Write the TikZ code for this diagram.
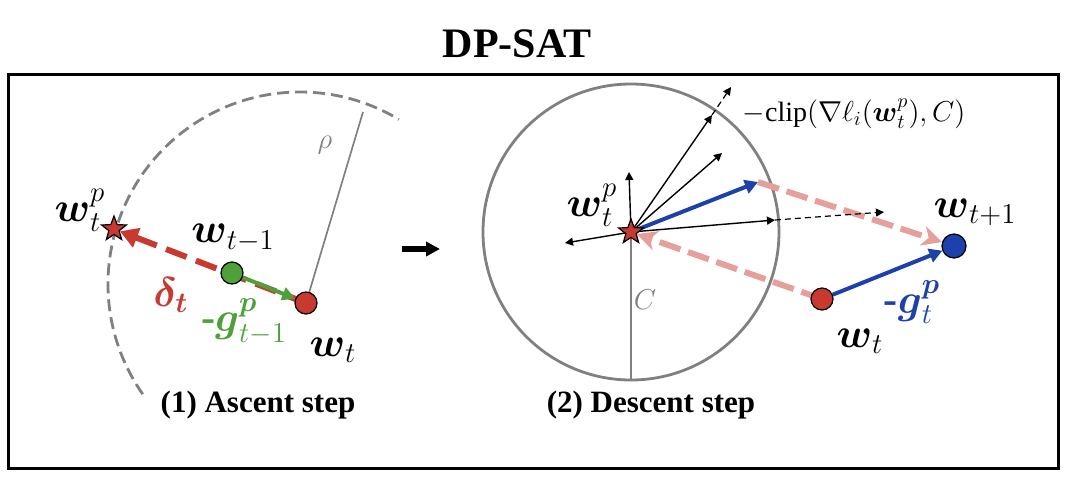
\documentclass[tikz,border=0pt]{standalone}
\usepackage{fontspec}
\setmainfont{Liberation Serif}
\usepackage{amsmath, amssymb}
\usetikzlibrary{arrows.meta, shapes.geometric, backgrounds}
\definecolor{dpred}{RGB}{200,58,48}
\definecolor{dpgreen}{RGB}{78,160,58}
\definecolor{dpblue}{RGB}{30,64,170}
\definecolor{dppink}{RGB}{230,160,155}
\definecolor{dpgray}{RGB}{128,128,128}
\newcommand{\wv}{\boldsymbol{w}}

\begin{document}
\begin{tikzpicture}[x=0.5pt, y=-0.5pt,
        % points (weights)
        dot/.style={circle, draw, line width=0.6pt, minimum size=11pt, inner sep=0pt},
        pstar/.style={star, star points=5, star point ratio=2.4, draw, line width=0.6pt, fill=dpred, minimum size=13pt, inner sep=0pt},
        % labels
        lbl/.style={font=\fontsize{21}{25}\selectfont, inner sep=0pt},
        small/.style={font=\fontsize{14}{17}\selectfont, inner sep=0pt},
        caption/.style={font=\fontsize{15.5}{18}\selectfont\bfseries},
        title/.style={font=\fontsize{21}{25}\selectfont\bfseries},
        % lines and arrows
        frame/.style={line width=1.5pt},
        rholine/.style={dpgray, line width=0.85pt},
        ball/.style={dpgray, line width=1.4pt},
        ascent/.style={dpred, line width=3pt, dash pattern=on 11pt off 5pt, -{Triangle[length=9pt, width=10pt]}},
        oldgrad/.style={dpgreen, line width=2pt, -{Triangle[length=6.5pt, width=6.5pt]}},
        newgrad/.style={dpblue, line width=2pt, -{Triangle[length=6.5pt, width=7pt]}},
        sample/.style={line width=0.7pt, -{Triangle[length=4pt, width=4pt]}},
        unclip/.style={line width=0.6pt, dash pattern=on 3pt off 2pt, -{Triangle[length=4pt, width=4pt]}},
        move/.style={dppink, line width=3pt, dash pattern=on 11pt off 4pt, -{Stealth[length=10pt, width=10pt, inset=3pt]}},
        next/.style={line width=2.6pt, -{Triangle[length=7pt, width=7pt]}}
    ]
    \useasboundingbox (0,0) rectangle (1072,494);

    % title and frame
    \node[title] (ttl) at (517,44) {DP-SAT};
    \draw[frame] (8,74) rectangle (1058,468);

    % (1) ascent step
    \node[pstar] (wp1) at (114,229) {};
    \node[dot, fill=dpgreen] (wprev) at (232,273) {};
    \node[dot, fill=dpred] (wt1) at (306,303) {};
    \coordinate (ctr1) at (300,284);
    \coordinate (rhoend) at (363,112);

    \node[lbl] (l_wp1) at (80,210) {$\wv_t^{p}$};
    \node[lbl] (l_wprev) at (233,238) {$\wv_{t-1}$};
    \node[lbl, dpred] (l_delta) at (171,295) {$\boldsymbol{\delta_t}$};
    \node[lbl, dpgreen] (l_oldgrad) at (244,322) {\textbf{-}$\boldsymbol{g}^{\boldsymbol{p}}_{t-1}$};
    \node[lbl] (l_wt1) at (333,350) {$\wv_t$};
    \node[small, dpgray] (l_rho) at (325,145) {$\rho$};
    \node[caption] (cap1) at (258,405) {(1) Ascent step};

    % step arrow
    \coordinate (go1) at (402,249);
    \coordinate (go2) at (440,249);
    \draw[next] (go1) -- (go2);

    % (2) descent step
    \node[pstar] (wp2) at (631,232) {};
    \node[dot, fill=dpred] (wt2) at (822,299) {};
    \node[dot, fill=dpblue, minimum size=12pt] (wnext) at (954,246) {};
    \coordinate (gl) at (565,243);
    \coordinate (gu) at (629,172);
    \coordinate (gur) at (712,115);
    \coordinate (gurx) at (731,87);
    \coordinate (gm) at (722,153);
    \coordinate (gr) at (775,220);
    \coordinate (grx) at (884,212);
    \coordinate (gbar) at (758,182);
    \coordinate (cbot) at (631,381);

    \node[lbl] (l_wp2) at (592,205) {$\wv_t^{p}$};
    \node[small, dpgray] (l_c) at (645,300) {$C$};
    \node[small] (l_clip) at (854,114) {$-\mathrm{clip}(\nabla\ell_i(\wv_t^{p}),C)$};
    \node[lbl] (l_wnext) at (975,212) {$\wv_{t+1}$};
    \node[lbl, dpblue] (l_newgrad) at (912,302) {\textbf{-}$\boldsymbol{g}^{\boldsymbol{p}}_t$};
    \node[lbl] (l_wt2) at (860,341) {$\wv_t$};
    \node[caption] (cap2) at (651,405) {(2) Descent step};

    % connectors behind the points
    \begin{scope}[on background layer]
        \draw[ball, dash pattern=on 6pt off 3pt] (ctr1) ++(145:192) arc[start angle=145, end angle=301, radius=192];
        \draw[rholine] (wt1) -- (rhoend);
        \draw[ascent] (wt1.center) -- (wp1);
        \draw[oldgrad] (wprev) -- (wt1);

        \draw[ball] (wp2.center) circle[radius=148];
        \draw[ball] (wp2.center) -- (cbot);
        \draw[move] (wt2.center) -- (wp2);
        \draw[move] (gbar) -- (wnext);
        \draw[sample] (wp2.center) -- (gl);
        \draw[sample] (wp2.center) -- (gu);
        \draw[sample] (wp2.center) -- (gur);
        \draw[sample] (wp2.center) -- (gm);
        \draw[sample] (wp2.center) -- (gr);
        \draw[unclip] (gur) -- (gurx);
        \draw[unclip] (gr) -- (grx);
        \draw[newgrad] (wp2.center) -- (gbar);
        \draw[newgrad] (wt2) -- (wnext);
    \end{scope}

\end{tikzpicture}
\end{document}
